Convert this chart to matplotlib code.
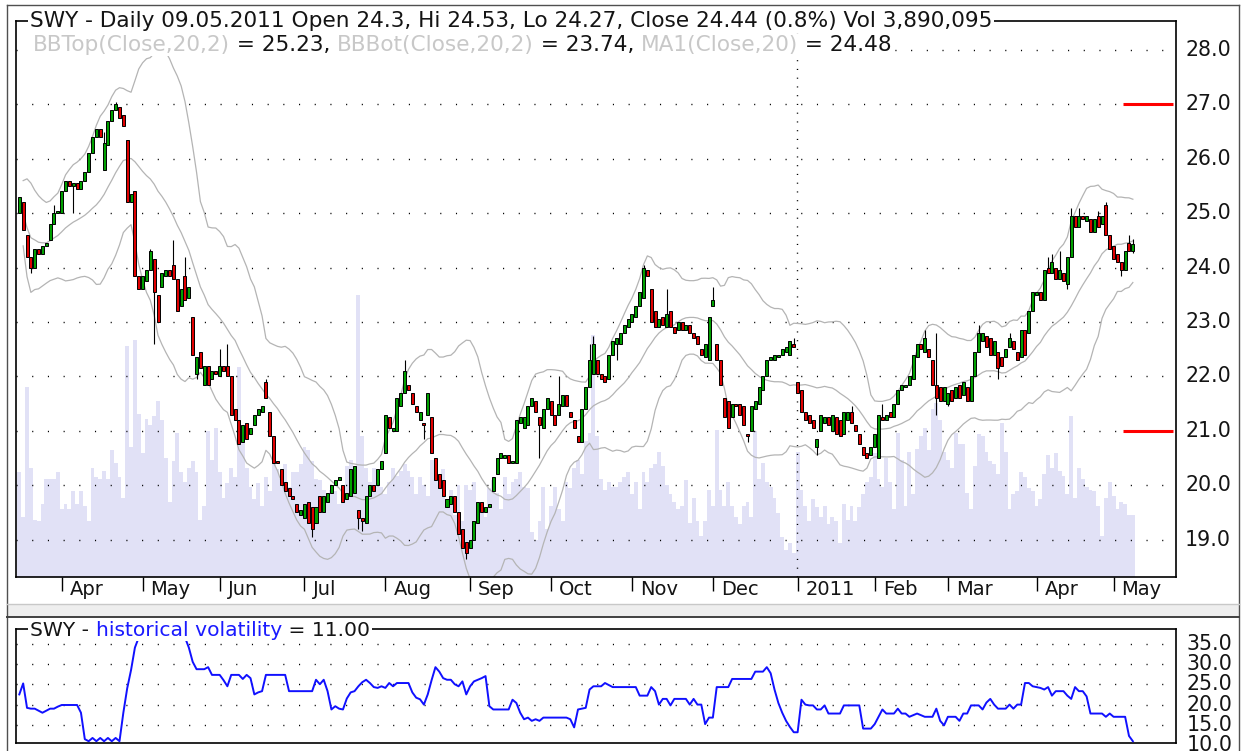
import numpy as np
import pandas as pd
import matplotlib
matplotlib.use("Agg")
import matplotlib.pyplot as plt
from matplotlib.lines import Line2D
from matplotlib.patches import Rectangle
from matplotlib.transforms import IdentityTransform

W, H = 1241, 751
plt.rcParams["font.family"] = ["DejaVu Sans"]

# trading days on the chart: 17 Mar 2010 .. 9 May 2011, exchange holidays removed
first_day = "2010-03-17"
last_day = "2011-05-09"
holidays = ["2010-04-02", "2010-05-31", "2010-07-05", "2010-09-06", "2010-11-25",
            "2010-12-24", "2011-01-17", "2011-02-21", "2011-04-22"]

# daily open / close (one line per month)
opens = [
    25.0, 25.2, 24.6, 24.2, 24.0, 24.35, 24.25, 24.4, 24.5, 24.8, 25.0,
    25.0, 25.4, 25.6, 25.5, 25.55, 25.45, 25.6, 25.75, 26.1, 26.4, 26.55, 25.8, 26.25, 26.7, 26.9, 26.95, 26.8, 26.35, 25.2, 25.4, 23.85,
    23.6, 23.75, 23.95, 24.15, 23.5, 23.65, 23.85, 23.95, 24.05, 23.8, 23.3, 23.85, 23.45, 23.1, 22.05, 22.45, 21.85, 22.2, 21.95, 22.1,
    22.0, 22.2, 22.2, 22.0, 21.4, 21.2, 20.8, 21.15, 20.95, 21.1, 21.3, 21.35, 21.9, 21.35, 20.9, 20.45, 20.3, 20.05, 19.95, 19.8, 19.65, 19.45,
    19.4, 19.7, 19.6, 19.3, 19.8, 19.5, 19.7, 19.85, 20.0, 20.1, 20.0, 19.75, 19.8, 19.85, 19.55, 19.4, 19.3, 19.8, 20.0, 20.0, 20.3,
    20.6, 21.25, 21.0, 21.0, 21.45, 21.7, 21.85, 21.7, 21.45, 21.2, 21.15, 21.3, 21.25, 20.5, 20.2, 20.1, 19.6, 19.65, 19.8, 19.5, 19.2, 18.95,
    18.85, 19.0, 19.3, 19.7, 19.5, 19.6, 19.9, 20.2, 20.5, 20.5, 20.55, 20.4, 20.4, 21.15, 21.05, 21.1, 21.45, 21.55, 21.25, 21.05, 21.4,
    21.55, 21.3, 21.3, 21.45, 21.65, 21.35, 21.2, 20.9, 20.8, 21.4, 21.8, 22.05, 22.3, 22.05, 22.0, 21.95, 22.4, 22.6, 22.6, 22.8, 22.9,
    23.0, 23.1, 23.3, 23.45, 23.95, 23.6, 23.2, 22.9, 23.1, 22.9, 23.2, 22.9, 22.85, 23.0, 22.85, 22.95, 22.8, 22.75, 22.5, 22.35, 22.3,
    23.3, 22.6, 22.3, 21.6, 21.55, 21.25, 21.5, 21.5, 21.45, 20.95, 21.0, 21.4, 21.5, 21.75, 22.0, 22.3, 22.3, 22.35, 22.4, 22.45, 22.4, 22.6,
    21.9, 21.75, 21.35, 21.3, 21.2, 20.7, 21.0, 21.15, 21.25, 21.0, 21.25, 21.2, 20.95, 21.2, 21.35, 21.1, 20.95, 20.7, 20.6, 20.55,
    20.7, 20.5, 21.25, 21.2, 21.35, 21.25, 21.5, 21.75, 21.8, 21.85, 21.95, 22.35, 22.6, 22.45, 22.5, 22.3, 21.85, 21.8, 21.55,
    21.5, 21.75, 21.6, 21.85, 21.65, 21.8, 21.55, 22.0, 22.45, 22.65, 22.75, 22.7, 22.4, 22.45, 22.35, 22.35, 22.55, 22.65, 22.45, 22.35, 22.85, 22.8, 23.2,
    23.5, 23.55, 23.4, 24.0, 23.9, 24.0, 23.8, 23.9, 23.7, 24.2, 24.95, 24.75, 24.95, 24.85, 24.9, 24.65, 24.95, 24.8, 25.15, 24.6,
    24.4, 24.25, 24.1, 23.95, 24.45, 24.3,
]
closes = [
    25.3, 24.7, 24.2, 24.0, 24.35, 24.25, 24.4, 24.45, 24.8, 25.0, 25.05,
    25.4, 25.6, 25.5, 25.55, 25.45, 25.6, 25.75, 26.1, 26.4, 26.55, 26.4, 26.3, 26.7, 26.9, 27.0, 26.75, 26.6, 25.2, 25.35, 23.85, 23.6,
    23.85, 23.95, 24.3, 23.55, 23.0, 23.9, 23.95, 23.85, 23.8, 23.2, 23.6, 23.4, 23.65, 22.4, 22.35, 22.15, 22.2, 21.85, 22.1, 22.05,
    22.2, 22.1, 22.0, 21.3, 21.2, 20.75, 21.1, 20.85, 21.05, 21.3, 21.4, 21.45, 21.6, 20.9, 20.4, 20.4, 20.0, 19.9, 19.8, 19.75, 19.5, 19.55,
    19.65, 19.3, 19.2, 19.6, 19.5, 19.8, 19.85, 20.0, 20.1, 20.15, 19.7, 19.85, 20.3, 20.35, 19.4, 19.35, 19.8, 20.0, 19.9, 20.3, 20.45,
    21.3, 21.05, 21.05, 21.6, 21.7, 22.1, 21.75, 21.5, 21.35, 21.35, 21.1, 21.7, 20.6, 20.1, 19.95, 19.8, 19.75, 19.8, 19.5, 19.1, 18.85, 18.75,
    19.0, 19.35, 19.7, 19.5, 19.6, 19.65, 20.15, 20.5, 20.6, 20.55, 20.4, 20.45, 21.2, 21.25, 21.25, 21.45, 21.6, 21.35, 21.1, 21.4, 21.6,
    21.3, 21.1, 21.5, 21.65, 21.45, 21.25, 21.05, 20.8, 21.4, 21.8, 22.3, 22.6, 22.05, 21.95, 21.9, 22.4, 22.65, 22.7, 22.8, 22.95, 23.05,
    23.15, 23.3, 23.55, 24.0, 23.85, 23.0, 22.9, 23.05, 22.95, 23.15, 22.9, 22.8, 23.0, 22.85, 22.95, 22.8, 22.7, 22.6, 22.4, 22.6, 23.1,
    23.4, 22.3, 21.85, 21.25, 21.05, 21.5, 21.45, 21.3, 21.1, 20.9, 21.45, 21.55, 21.8, 22.0, 22.3, 22.35, 22.4, 22.4, 22.5, 22.55, 22.65, 22.55,
    21.7, 21.35, 21.2, 21.15, 21.05, 20.85, 21.3, 21.25, 21.1, 21.3, 20.95, 20.9, 21.35, 21.35, 21.15, 21.0, 20.75, 20.55, 20.5, 20.7,
    20.95, 21.3, 21.2, 21.3, 21.25, 21.5, 21.75, 21.85, 21.85, 22.0, 22.4, 22.6, 22.5, 22.7, 22.35, 21.85, 21.6, 21.55, 21.8,
    21.7, 21.55, 21.8, 21.6, 21.9, 21.55, 22.0, 22.45, 22.8, 22.8, 22.55, 22.4, 22.65, 22.15, 22.2, 22.5, 22.7, 22.5, 22.3, 22.85, 22.4, 23.2, 23.55,
    23.55, 23.4, 23.95, 23.9, 24.1, 23.8, 23.95, 23.75, 24.2, 24.95, 24.75, 24.95, 24.9, 24.95, 24.65, 24.9, 24.75, 24.95, 24.6, 24.35,
    24.15, 24.1, 23.95, 24.3, 24.3, 24.44,
]
# visible wick extremes (bar index -> price); other bars have no visible wick
wick_hi = {9: 25.15, 22: 26.5, 25: 27.05, 34: 24.35, 40: 24.5, 43: 24.2, 52: 22.5, 54: 22.6,
           64: 21.95, 100: 22.3, 140: 22.0, 148: 22.6, 149: 22.75, 162: 24.05, 168: 23.6,
           180: 23.65, 201: 22.7, 216: 21.45, 224: 21.5, 235: 22.85, 238: 22.8, 249: 22.95,
           257: 22.8, 267: 24.2, 268: 24.25, 270: 24.3, 273: 25.1, 275: 25.1, 280: 25.05,
           282: 25.2, 288: 24.6, 289: 24.53}
wick_lo = {3: 23.9, 14: 25.0, 35: 22.6, 46: 21.95, 76: 19.05, 88: 19.2, 89: 19.15, 105: 20.85,
           116: 18.65, 135: 20.5, 155: 22.3, 189: 20.8, 207: 20.55, 238: 21.3, 241: 21.45,
           254: 21.95, 272: 23.6, 286: 23.85, 289: 24.27}

# daily volume, millions of shares
volume_m = [
    6.6, 3.8, 12.0, 6.9, 3.6, 3.5, 4.6, 6.2, 6.2, 6.2, 6.6,
    4.3, 4.6, 4.3, 5.4, 4.6, 5.4, 4.5, 3.5, 6.9, 6.3, 6.2, 6.7, 6.2, 8.0, 7.2, 6.3, 5.0, 14.6, 8.2, 15.0, 10.3,
    7.8, 10.0, 9.6, 10.2, 11.1, 9.9, 7.5, 4.7, 7.3, 9.1, 6.6, 6.0, 6.9, 7.3, 6.6, 3.6, 4.5, 9.2, 7.4, 9.4,
    6.6, 5.0, 5.9, 6.9, 6.3, 13.3, 8.9, 6.9, 5.7, 4.9, 5.9, 4.5, 6.3, 5.4, 7.1, 6.8, 6.2, 7.1, 5.7, 6.6, 6.6, 7.1,
    8.2, 8.0, 7.3, 6.2, 6.1, 5.5, 4.8, 5.5, 5.4, 4.6, 5.3, 7.0, 7.4, 6.6, 17.8, 8.9, 6.9, 6.0, 6.9, 6.6, 5.7,
    5.2, 6.0, 6.9, 6.4, 6.7, 7.1, 6.7, 6.3, 5.2, 6.3, 5.8, 5.1, 7.4, 6.7, 6.2, 6.8, 4.7, 5.5, 3.9, 5.8, 3.5, 5.8,
    5.5, 6.0, 4.3, 4.7, 3.8, 5.6, 6.1, 5.3, 4.3, 6.3, 5.2, 6.0, 6.2, 6.6, 5.7, 5.6, 2.8, 2.3, 3.5, 5.7, 3.0,
    4.5, 5.7, 4.3, 3.5, 6.0, 5.6, 6.9, 7.4, 6.5, 8.6, 9.1, 15.3, 8.9, 6.2, 5.5, 6.0, 5.7, 5.7, 6.0, 6.3, 6.6,
    5.2, 6.0, 4.3, 6.6, 6.0, 6.9, 7.1, 7.9, 7.0, 5.8, 5.2, 4.7, 4.3, 4.5, 6.1, 3.4, 5.0, 3.5, 2.6, 3.5, 5.5,
    4.5, 9.3, 5.5, 4.5, 6.0, 4.5, 3.8, 3.3, 4.5, 4.7, 3.8, 9.2, 6.2, 7.2, 6.0, 5.7, 5.0, 4.0, 2.5, 1.7, 2.1, 1.5,
    7.9, 5.5, 4.5, 3.5, 4.9, 4.4, 3.8, 4.5, 3.3, 3.8, 3.5, 2.1, 4.6, 3.6, 4.5, 3.5, 4.4, 5.2, 6.0, 6.3,
    7.8, 6.2, 5.7, 7.5, 6.0, 4.3, 9.1, 7.4, 4.5, 7.9, 5.2, 8.1, 8.9, 9.4, 8.0, 10.6, 11.0, 9.9, 7.9,
    7.4, 6.9, 9.1, 8.4, 8.4, 5.3, 4.3, 7.0, 9.0, 8.9, 7.9, 7.3, 7.1, 6.5, 9.7, 7.9, 4.3, 5.2, 5.4, 6.6, 6.3, 5.6, 5.4,
    4.5, 4.9, 6.5, 7.7, 6.9, 7.8, 6.7, 6.4, 5.2, 10.2, 5.0, 6.9, 6.2, 5.7, 5.5, 5.4, 4.5, 2.6, 5.0, 6.0,
    5.1, 4.3, 4.7, 4.6, 3.9, 3.89,
]

# historical volatility, lower panel
hist_vol = [
    22.5, 25.2, 19.2, 19.0, 19.0, 18.5, 18.0, 18.5, 19.0, 19.0, 19.5,
    19.9, 19.9, 19.9, 19.9, 19.9, 18.0, 11.5, 11.0, 11.8, 11.0, 11.8, 11.0, 11.8, 11.0, 11.8, 11.0, 18.0, 24.0, 28.5, 34.0, 36.5,
    36.5, 36.5, 36.5, 36.5, 36.5, 36.5, 36.5, 36.5, 36.5, 36.5, 36.5, 36.5, 34.0, 30.5, 28.7, 28.7, 28.7, 29.2, 27.3, 27.3,
    27.3, 26.0, 24.5, 27.3, 27.3, 27.3, 26.3, 27.3, 26.5, 22.5, 23.0, 23.3, 27.3, 27.3, 27.3, 27.3, 27.3, 27.3, 23.3, 23.3, 23.3, 23.3,
    23.3, 23.3, 23.3, 26.1, 25.0, 26.1, 23.3, 18.8, 19.6, 19.0, 18.8, 21.5, 23.0, 23.3, 24.5, 25.5, 26.1, 25.3, 24.3, 24.1, 24.5,
    24.1, 25.3, 24.5, 25.3, 25.3, 25.3, 25.3, 23.0, 21.7, 21.3, 20.0, 22.5, 26.0, 29.2, 28.1, 26.5, 26.1, 26.1, 25.0, 24.5, 25.7, 22.5,
    24.5, 25.7, 26.1, 26.5, 27.0, 19.6, 18.8, 18.8, 18.8, 18.8, 18.8, 21.2, 20.4, 18.0, 16.4, 16.8, 16.0, 16.4, 16.0, 16.8, 16.8,
    16.8, 16.8, 16.8, 16.8, 16.8, 16.4, 14.4, 18.8, 19.0, 19.2, 23.7, 24.5, 24.5, 24.5, 25.3, 24.8, 24.3, 24.3, 24.3, 24.3, 24.3,
    24.3, 24.3, 22.2, 22.2, 22.2, 24.3, 23.3, 20.0, 21.4, 21.4, 19.8, 21.4, 21.4, 21.4, 21.4, 20.0, 21.4, 20.0, 20.0, 15.2, 16.8,
    16.8, 24.3, 24.3, 24.3, 24.3, 26.3, 26.3, 26.3, 26.3, 26.3, 26.3, 28.1, 28.1, 28.1, 29.2, 27.7, 23.7, 20.4, 18.0, 16.0, 14.5, 13.2,
    13.2, 21.2, 20.0, 19.8, 19.8, 18.8, 18.8, 19.8, 17.8, 17.8, 17.8, 17.8, 19.8, 19.8, 19.8, 19.8, 19.8, 14.1, 14.1, 14.1,
    15.2, 17.0, 18.8, 17.8, 17.8, 17.8, 19.0, 17.8, 17.8, 17.0, 17.4, 17.8, 17.4, 17.0, 17.0, 17.0, 19.0, 16.0, 14.9,
    17.0, 17.0, 17.0, 16.0, 17.8, 17.8, 19.8, 19.8, 19.8, 18.8, 20.5, 21.4, 20.0, 19.0, 19.0, 19.0, 20.0, 19.0, 20.0, 20.0, 25.3, 25.3, 24.5,
    24.3, 24.1, 23.7, 24.3, 22.2, 23.3, 23.3, 23.3, 22.2, 21.4, 24.3, 23.3, 23.3, 22.0, 17.8, 17.8, 17.8, 17.8, 17.0, 17.8,
    17.0, 17.0, 17.0, 17.0, 12.3, 11.0,
]

month_labels = ["Apr", "May", "Jun", "Jul", "Aug", "Sep", "Oct", "Nov", "Dec",
                "2011", "Feb", "Mar", "Apr", "May"]
price_ticks = [19, 20, 21, 22, 23, 24, 25, 26, 27, 28]
hv_ticks = [10, 15, 20, 25, 30, 35]
marker_levels = [27.0, 21.0]

header = [("SWY - Daily 09.05.2011 Open 24.3, Hi 24.53, Lo 24.27, Close 24.44 (0.8%) Vol 3,890,095", "#141414")]
legend = [("BBTop(Close,20,2)", "#c8c8c8"), (" = 25.23, ", "#141414"),
          ("BBBot(Close,20,2)", "#c8c8c8"), (" = 23.74, ", "#141414"),
          ("MA1(Close,20)", "#c8c8c8"), (" = 24.48", "#141414")]
hv_title = [("SWY - ", "#141414"), ("historical volatility", "#1a1aff"), (" = 11.00", "#141414")]

# ---- data frame ----
days = pd.bdate_range(first_day, last_day)
days = days[~days.isin(pd.to_datetime(holidays))]
df = pd.DataFrame({"open": opens, "close": closes, "vol": volume_m, "hv": hist_vol}, index=days)
df["high"] = df[["open", "close"]].max(axis=1)
df["low"] = df[["open", "close"]].min(axis=1)
for k, v in wick_hi.items():
    df.iloc[k, df.columns.get_loc("high")] = v
for k, v in wick_lo.items():
    df.iloc[k, df.columns.get_loc("low")] = v

ma = df["close"].rolling(20, min_periods=2).mean()
sd = df["close"].rolling(20, min_periods=2).std(ddof=0)
bb_top = ma + 2 * sd
bb_bot = ma - 2 * sd

x = np.arange(len(df))
months = df.index.month.values
month_start = np.flatnonzero(months != np.roll(months, 1))[1:]

# ---- figure ----
fig = plt.figure(figsize=(W / 100, H / 100), dpi=100)


def px_axes(left, top, right, bottom):
    return fig.add_axes([left / W, 1 - bottom / H, (right - left) / W, (bottom - top) / H])


XLIM = (-0.86, 300.2)
ax_vol = px_axes(16, 20.7, 1176, 576.6)
ax = px_axes(16, 20.7, 1176, 576.6)
ax_hv = px_axes(16, 628.5, 1176, 743)

# volume behind the price
ax_vol.bar(x, df["vol"], width=1.0, color="#e1e1f6", edgecolor="none")
ax_vol.set_xlim(*XLIM)
ax_vol.set_ylim(0, 35.2)
ax_vol.axis("off")

ax.patch.set_visible(False)
ax.hlines(price_ticks, XLIM[0], XLIM[1], colors="black", lw=1.0,
          linestyles=(0, (0.8, 10.5)), zorder=1)
ax.axvline(month_start[9] - 0.25, color="black", lw=1.0, ls=(0, (0.8, 5.5)), zorder=1)

ax.plot(x, bb_top, color="#b4b4b4", lw=0.9, zorder=2)
ax.plot(x, bb_bot, color="#b4b4b4", lw=0.9, zorder=2)
ax.plot(x, ma, color="#b4b4b4", lw=0.9, zorder=2)

up = df["close"] >= df["open"]
body_col = np.where(up, "#00a000", "#e00000")
body_h = (df["close"] - df["open"]).abs().clip(lower=0.02)
ax.vlines(x, df["low"], df["high"], color="black", lw=0.8, zorder=3)
ax.bar(x, body_h, bottom=df[["open", "close"]].min(axis=1), width=0.78,
       color=body_col, edgecolor="black", linewidth=0.7, zorder=4)

ax.hlines(marker_levels, 0.954, 0.9975, transform=ax.get_yaxis_transform(),
          colors="#ff0000", lw=2.2, zorder=5)

ax.set_xlim(*XLIM)
ax.set_ylim(18.32, 28.54)
ax.set_yticks([])
ax.set_xticks(month_start)
ax.set_xticklabels([])
ax.tick_params(axis="x", direction="out", length=10, width=1.0, color="black")
for sp in ax.spines.values():
    sp.set_linewidth(1.2)
for pos, lab in zip(month_start, month_labels):
    ax.annotate(lab, xy=(pos, 0), xycoords=("data", "axes fraction"), xytext=(8, -13),
                textcoords="offset pixels", ha="left", va="center", fontsize=14,
                color="#141414", annotation_clip=False)
for p in price_ticks:
    ax.text(1.0078, p, f"{p:.1f}", transform=ax.get_yaxis_transform(), ha="left",
            va="center", fontsize=14.8, color="#141414")

# lower panel
ax_hv.hlines(hv_ticks[1:], XLIM[0], XLIM[1], colors="black", lw=1.0,
             linestyles=(0, (0.8, 10.5)), zorder=1)
ax_hv.plot(x, df["hv"], color="#1010ff", lw=1.4, zorder=3)
ax_hv.set_xlim(*XLIM)
ax_hv.set_ylim(10.56, 38.7)
ax_hv.set_xticks([])
ax_hv.set_yticks([])
for sp in ax_hv.spines.values():
    sp.set_linewidth(1.2)
for v in hv_ticks:
    ax_hv.text(1.0092, v, f"{v:.1f}", transform=ax_hv.get_yaxis_transform(), ha="left",
               va="center", fontsize=14.8, color="#141414", clip_on=False)

# window chrome: outer border and the splitter between panes
for seg in [((6.5, 6.5), (5, H)), ((1239, 1239), (5, H)), ((6.5, 1239), (5, 5))]:
    fig.add_artist(Line2D(seg[0], [H - y for y in seg[1]], transform=IdentityTransform(),
                          color="#505050", lw=1.0))
fig.add_artist(Rectangle((7, H - 617), 1232, 13, transform=IdentityTransform(),
                         facecolor="#eeeeee", edgecolor="none"))
fig.add_artist(Line2D((7, 1239), (H - 604, H - 604), transform=IdentityTransform(),
                      color="#c8c8c8", lw=1.0))
fig.add_artist(Line2D((7, 1239), (H - 617, H - 617), transform=IdentityTransform(),
                      color="#404040", lw=1.4))

# multi-coloured header lines
renderer = fig.canvas.get_renderer()


def text_w(s, size):
    t = fig.text(0, 0, s + "|", fontsize=size, transform=IdentityTransform())
    w = t.get_window_extent(renderer).width
    t.remove()
    return w


def draw_runs(x0, y_mid, runs, size):
    full = "".join(s for s, _ in runs)
    bar = text_w("", size)
    total = text_w(full, size) - bar
    h = size * 1.389 * 1.05
    fig.add_artist(Rectangle((x0 - 2, H - y_mid - h / 2), total + 4, h,
                             transform=IdentityTransform(), facecolor="white",
                             edgecolor="none", zorder=6))
    prefix = ""
    for s, col in runs:
        off = text_w(prefix, size) - bar if prefix else 0
        fig.text(x0 + off, H - y_mid, s, fontsize=size, color=col, va="center", ha="left",
                 transform=IdentityTransform(), zorder=7)
        prefix += s


draw_runs(30, 20.7, header, 15.6)
draw_runs(33, 45, legend, 15.6)
draw_runs(30, 630, hv_title, 14.6)

fig.savefig("out.png", dpi=100)
